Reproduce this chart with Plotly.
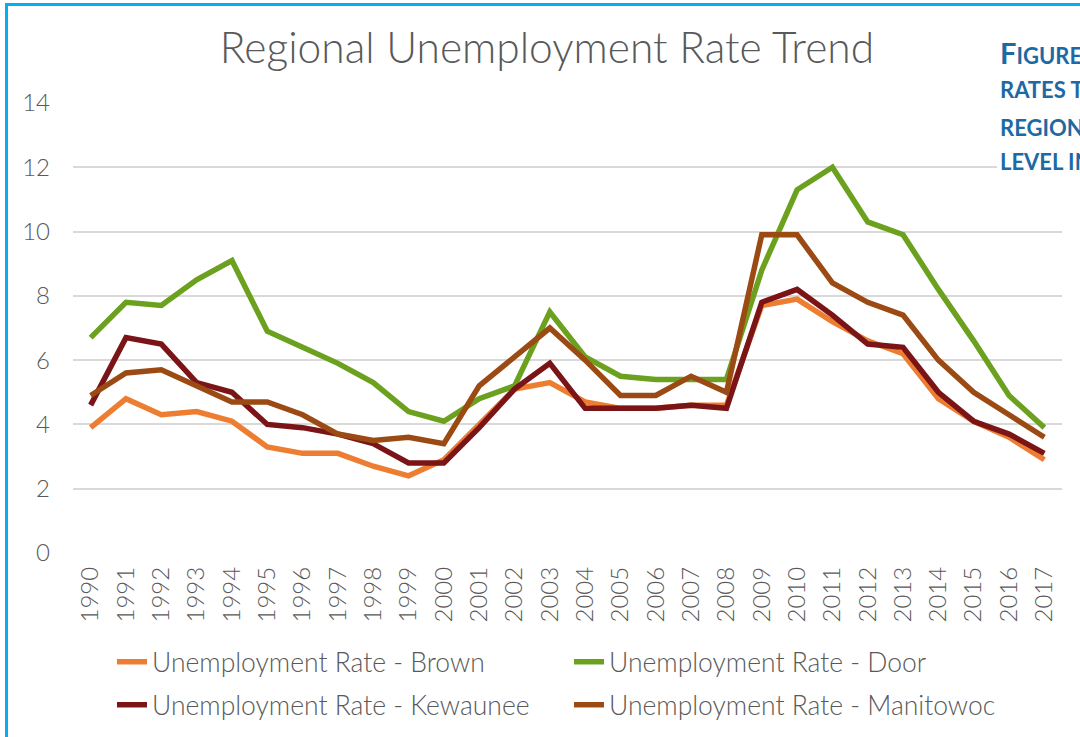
import plotly.graph_objects as go

years = [str(y) for y in range(1990, 2018)]

brown = [3.9, 4.8, 4.3, 4.4, 4.1, 3.3, 3.1, 3.1, 2.7, 2.4,
         2.9, 4.0, 5.1, 5.3, 4.7, 4.5, 4.5, 4.6, 4.6, 7.7,
         7.9, 7.2, 6.6, 6.2, 4.8, 4.1, 3.6, 2.9]
door = [6.7, 7.8, 7.7, 8.5, 9.1, 6.9, 6.4, 5.9, 5.3, 4.4,
        4.1, 4.8, 5.2, 7.5, 6.1, 5.5, 5.4, 5.4, 5.4, 8.8,
        11.3, 12.0, 10.3, 9.9, 8.2, 6.6, 4.9, 3.9]
kewaunee = [4.6, 6.7, 6.5, 5.3, 5.0, 4.0, 3.9, 3.7, 3.4, 2.8,
            2.8, 3.9, 5.1, 5.9, 4.5, 4.5, 4.5, 4.6, 4.5, 7.8,
            8.2, 7.4, 6.5, 6.4, 5.0, 4.1, 3.7, 3.1]
manitowoc = [4.9, 5.6, 5.7, 5.2, 4.7, 4.7, 4.3, 3.7, 3.5, 3.6,
             3.4, 5.2, 6.1, 7.0, 6.0, 4.9, 4.9, 5.5, 5.0, 9.9,
             9.9, 8.4, 7.8, 7.4, 6.0, 5.0, 4.3, 3.6]

series = [
    ("Unemployment Rate - Brown", brown, "#ED7D31", "legend"),
    ("Unemployment Rate - Door", door, "#6BA11E", "legend"),
    ("Unemployment Rate - Kewaunee", kewaunee, "#7A1417", "legend2"),
    ("Unemployment Rate - Manitowoc", manitowoc, "#9C4A14", "legend2"),
]

W, H = 1080, 737
TEXT = "#595959"
FONT = "Lato, 'Open Sans', sans-serif"

# plot area in pixels
PL, PR, PT, PB = 73, 1062, 103, 553


def px_x(x):
    return (x - PL) / (PR - PL)


def px_y(y):
    return (PB - y) / (PB - PT)


fig = go.Figure()
for name, vals, color, leg in series:
    fig.add_trace(go.Scatter(
        x=years, y=vals, name=name, mode="lines",
        line=dict(color=color, width=5.5, shape="linear"),
        legend=leg,
    ))

legend_common = dict(
    orientation="h",
    xref="container", yref="container",
    xanchor="left", yanchor="middle",
    entrywidth=412, entrywidthmode="pixels",
    font=dict(family=FONT, size=26.5, color=TEXT, weight=300),
    bgcolor="rgba(0,0,0,0)",
    itemwidth=30,
)

fig.update_layout(
    width=W, height=H,
    paper_bgcolor="white", plot_bgcolor="white",
    margin=dict(l=PL, r=W - PR, t=PT, b=H - PB),
    title=dict(
        text="Regional Unemployment Rate Trend",
        x=547 / W, xanchor="center", xref="container",
        y=1 - 48 / H, yanchor="middle", yref="container",
        font=dict(family=FONT, size=42.5, color=TEXT, weight=300),
    ),
    xaxis=dict(
        type="category", range=[-0.5, len(years) - 0.5],
        showgrid=False, showline=False, zeroline=False,
        tickangle=-90, ticks="", ticklabelstandoff=8,
        tickfont=dict(family=FONT, size=24, color=TEXT, weight=300),
    ),
    yaxis=dict(
        range=[0, 14], dtick=2, tick0=0,
        showgrid=True, gridcolor="#D9D9D9", gridwidth=2,
        zeroline=False, showline=False, ticks="",
        ticklabelstandoff=22,
        tickfont=dict(family=FONT, size=24, color=TEXT, weight=300),
    ),
    legend=dict(x=112 / W, y=1 - 662 / H, **legend_common),
    legend2=dict(x=112 / W, y=1 - 705 / H, **legend_common),
    showlegend=True,
)

# white panel carrying the figure caption on the right
fig.add_shape(type="rect", xref="paper", yref="paper",
              x0=px_x(997), x1=px_x(1085), y0=px_y(200), y1=px_y(20),
              fillcolor="white", line=dict(width=0), layer="above")

caption_lines = [
    ("F<span style='font-size:22px'>IGURE 6: UNEMPLOYMENT</span>", 53, 29),
    ("RATES THROUGHOUT THE", 90, 22),
    ("REGION COMPARED TO STATE", 127, 22),
    ("LEVEL IN WISCONSIN", 162, 22),
]
for txt, ypix, size in caption_lines:
    fig.add_annotation(
        text="<b>" + txt + "</b>", xref="paper", yref="paper",
        x=px_x(998), y=px_y(ypix),
        xanchor="left", yanchor="middle", showarrow=False,
        font=dict(family=FONT, size=size, color="#1E69A3"),
    )

# blue frame edges (left and top)
fig.add_shape(type="line", xref="paper", yref="paper",
              x0=px_x(6.5), x1=px_x(6.5), y0=px_y(740), y1=px_y(3),
              line=dict(color="#00B0F0", width=3), layer="above")
fig.add_shape(type="line", xref="paper", yref="paper",
              x0=px_x(5), x1=px_x(1085), y0=px_y(4.5), y1=px_y(4.5),
              line=dict(color="#00B0F0", width=3), layer="above")

fig.write_html("out.html")
